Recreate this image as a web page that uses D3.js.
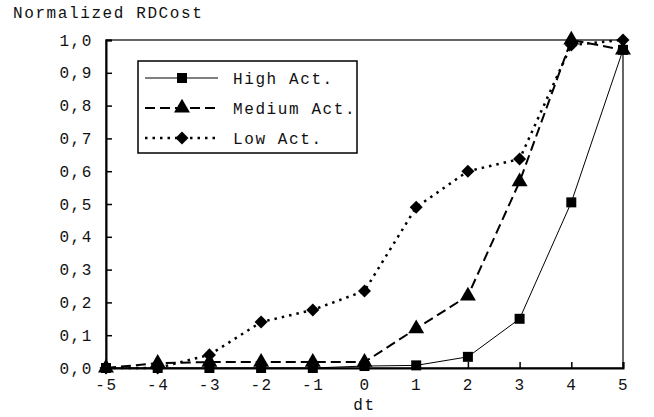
<!DOCTYPE html>
<html>
<head>
<meta charset="utf-8">
<script src="https://d3js.org/d3.v7.min.js"></script>
<style>
  body { margin: 0; background: #fff; }
  text { font-family: "Liberation Mono", "Courier New", monospace; font-size: 16px; letter-spacing: 1.6px; fill: #111; }
</style>
</head>
<body>
<div id="vis"></div>
<script>
// data
var dt = [-5, -4, -3, -2, -1, 0, 1, 2, 3, 4, 5];
var highAct = [0, 0, 0, 0, 0, 0.006, 0.008, 0.034, 0.15, 0.505, 0.97];
var mediumAct = [0, 0.015, 0.018, 0.018, 0.018, 0.018, 0.12, 0.22, 0.568, 1.0, 0.97];
var lowAct = [0, 0, 0.04, 0.14, 0.177, 0.235, 0.49, 0.60, 0.637, 0.985, 1.0];
var seriesNames = ["High Act.", "Medium Act.", "Low Act."];
var yTicks = [0, 0.1, 0.2, 0.3, 0.4, 0.5, 0.6, 0.7, 0.8, 0.9, 1.0];

var margin = {top: 40, right: 31, bottom: 49, left: 106},
    width = 654 - margin.left - margin.right,
    height = 417 - margin.top - margin.bottom;

var svg = d3.select("#vis")
    .append("svg")
    .attr("width", 654)
    .attr("height", 417)
    .append("g")
    .attr("transform", "translate(" + margin.left + "," + margin.top + ")");

var x = d3.scaleLinear().domain([-5, 5]).range([0, width]);
var y = d3.scaleLinear().domain([0, 1]).range([height, 0]);

// frame
svg.append("rect")
    .attr("width", width)
    .attr("height", height)
    .attr("fill", "none")
    .attr("stroke", "#000")
    .attr("stroke-width", 1.2);

// axes, ticks pointing inward
var xAxis = svg.append("g")
    .attr("transform", "translate(0," + height + ")")
    .call(d3.axisBottom(x).tickValues(dt).tickSize(-6).tickPadding(11)
        .tickFormat(function (d) { return d < 0 ? "-" + Math.abs(d) : d; }));
var yAxis = svg.append("g")
    .call(d3.axisLeft(y).tickValues(yTicks).tickSize(-6).tickPadding(13)
        .tickFormat(function (d) { return d3.format(".1f")(d).replace(".", ","); }));
[xAxis, yAxis].forEach(function (a) {
    a.select(".domain").attr("stroke-width", 2);
    a.selectAll(".tick line").attr("stroke-width", 1.5);
    a.selectAll("text").attr("font-family", null).attr("font-size", null);
});

svg.append("text")
    .attr("x", -93)
    .attr("y", -22)
    .text("Normalized RDCost");
svg.append("text")
    .attr("x", width / 2)
    .attr("y", height + 42)
    .attr("text-anchor", "middle")
    .text("dt");

var styles = [
    {values: highAct, dash: null, sw: 1, sym: d3.symbolSquare, size: 100},
    {values: mediumAct, dash: "10,5", sw: 2, sym: d3.symbolTriangle, size: 110},
    {values: lowAct, dash: "2.5,5", sw: 2.5, sym: d3.symbolSquare, size: 85, rot: 45}
];

var line = d3.line()
    .x(function (d) { return x(d[0]); })
    .y(function (d) { return y(d[1]); });

styles.forEach(function (s) {
    var pts = dt.map(function (d, i) { return [d, s.values[i]]; });
    svg.append("path")
        .attr("fill", "none")
        .attr("stroke", "#000")
        .attr("stroke-width", s.sw)
        .attr("stroke-dasharray", s.dash)
        .attr("d", line(pts));
});
styles.forEach(function (s) {
    var pts = dt.map(function (d, i) { return [d, s.values[i]]; });
    svg.selectAll(null)
        .data(pts)
        .enter().append("path")
        .attr("transform", function (d) {
            return "translate(" + x(d[0]) + "," + y(d[1]) + ")" + (s.rot ? " rotate(" + s.rot + ")" : "");
        })
        .attr("d", d3.symbol().type(s.sym).size(s.size))
        .attr("fill", "#000");
});

// legend
var leg = svg.append("g").attr("transform", "translate(32,21)");
leg.append("rect")
    .attr("width", 219)
    .attr("height", 92)
    .attr("fill", "#fff")
    .attr("stroke", "#000")
    .attr("stroke-width", 1.5);
styles.forEach(function (s, i) {
    var g = leg.append("g").attr("transform", "translate(0," + (17 + i * 30) + ")");
    g.append("line")
        .attr("x1", 7).attr("x2", 80)
        .attr("stroke", "#000")
        .attr("stroke-width", s.sw)
        .attr("stroke-dasharray", s.dash);
    g.append("path")
        .attr("transform", "translate(44,0)" + (s.rot ? " rotate(" + s.rot + ")" : ""))
        .attr("d", d3.symbol().type(s.sym).size(s.size))
        .attr("fill", "#000");
    g.append("text")
        .attr("x", 95)
        .attr("dy", "0.35em")
        .text(seriesNames[i]);
});
</script>
</body>
</html>
